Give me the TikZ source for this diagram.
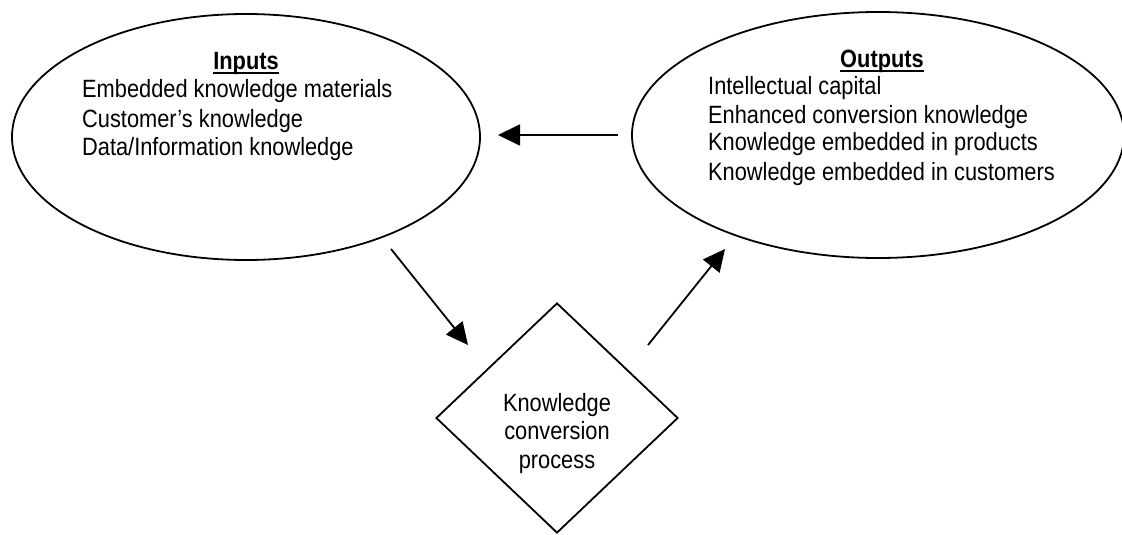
\documentclass[tikz,border=0pt]{standalone}
\usepackage{fontspec}
\usepackage{graphicx}
\setmainfont{Liberation Sans}
\usetikzlibrary{shapes.geometric,arrows.meta}

% slightly condensed lettering
\newcommand\narrowtext[1]{\scalebox{0.872}[1]{#1}}
% underline sitting just under the baseline
\newcommand\headline[1]{\setbox0\hbox{\textbf{#1}}\rlap{\rule[-4pt]{\wd0}{1.8pt}}\box0}

\begin{document}
\begin{tikzpicture}[x=1pt,y=-1pt,
  outline/.style={draw=black,line width=1.8pt,inner sep=0pt},
  txt/.style={inner sep=0pt,font=\fontsize{25pt}{30pt}\selectfont},
  line/.style={anchor=base west,txt},
  title/.style={anchor=base,txt},
  flow/.style={line width=1.8pt,-{Triangle[length=22pt,width=21pt]}}]
  \useasboundingbox (0,0) rectangle (1122,535);

  % the three stages
  \node[outline,ellipse,minimum width=468pt,minimum height=246pt] (inputs) at (246,137) {};
  \node[outline,ellipse,minimum width=492pt,minimum height=246pt] (outputs) at (878,135) {};
  \node[outline,diamond,minimum width=242pt,minimum height=230pt] (process) at (557,418) {};

  % inputs text
  \node[title] (inT) at (246,70) {\narrowtext{\headline{Inputs}}};
  \node[line] (in1) at (82,98) {\narrowtext{Embedded knowledge materials}};
  \node[line] (in2) at (82,127) {\narrowtext{Customer’s knowledge}};
  \node[line] (in3) at (82,155) {\narrowtext{Data/Information knowledge}};

  % outputs text
  \node[title] (outT) at (882,68) {\narrowtext{\headline{Outputs}}};
  \node[line] (out1) at (708,95) {\narrowtext{Intellectual capital}};
  \node[line] (out2) at (708,123) {\narrowtext{Enhanced conversion knowledge}};
  \node[line] (out3) at (708,150) {\narrowtext{Knowledge embedded in products}};
  \node[line] (out4) at (708,180) {\narrowtext{Knowledge embedded in customers}};

  % process text
  \node[title] (p1) at (557,411) {\narrowtext{Knowledge}};
  \node[title] (p2) at (557,439) {\narrowtext{conversion}};
  \node[title] (p3) at (557,468) {\narrowtext{process}};

  % arrow end points
  \coordinate (feedS) at (618,135);
  \coordinate (feedE) at (498,135);
  \coordinate (toProcS) at (391,249);
  \coordinate (toProcE) at (468,345);
  \coordinate (toOutS) at (648,345);
  \coordinate (toOutE) at (725,249);

  \draw[flow] (feedS) -- (feedE);
  \draw[flow] (toProcS) -- (toProcE);
  \draw[flow] (toOutS) -- (toOutE);
\end{tikzpicture}
\end{document}
